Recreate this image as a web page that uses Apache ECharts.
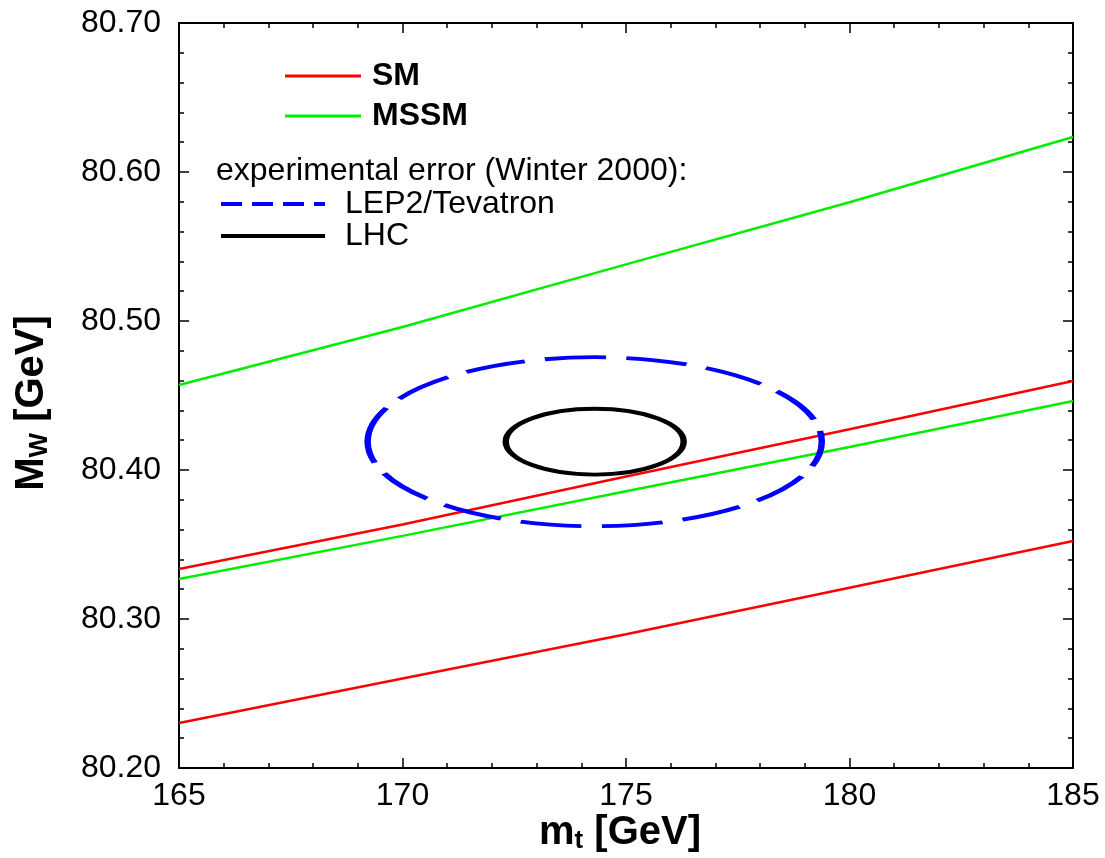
<!DOCTYPE html>
<html>
<head>
<meta charset="utf-8">
<script src="https://cdn.jsdelivr.net/npm/echarts@6/dist/echarts.min.js"></script>
<style>
  html, body { margin: 0; padding: 0; background: #fff; }
  #chart { width: 1105px; height: 858px; }
</style>
</head>
<body>
<div id="chart"></div>
<script>
// top mass grid [GeV]
const mtPoints = [165, 170, 175, 180, 185]
// M_W bands [GeV]
const smUpper = [80.3336, 80.3634, 80.3956, 80.4274, 80.4597]
const smLower = [80.2302, 80.2600, 80.2897, 80.3210, 80.3523]
const mssmUpper = [80.4570, 80.4960, 80.5380, 80.5797, 80.6235]
const mssmLower = [80.3268, 80.3558, 80.3857, 80.4154, 80.4463]
// error ellipses: [mt centre, MW centre, delta mt, delta MW]
const lep2Ellipse = [174.3, 80.419, 5.08, 0.0567]
const lhcEllipse = [174.3, 80.419, 1.99, 0.0221]

const xTicks = { min: 165, max: 185, interval: 5 }
const yTicks = { min: 80.2, max: 80.7, interval: 0.1 }

const FONT = '"Liberation Sans", Arial, Helvetica, sans-serif'
const RED = '#ff0000'
const GREEN = '#00ee00'
const BLUE = '#0000ff'

const zip = (xs, ys) => xs.map((x, i) => [x, ys[i]])

function lineSeries(name, ys, color) {
  return {
    name,
    type: 'line',
    data: zip(mtPoints, ys),
    symbol: 'none',
    smooth: false,
    lineStyle: { color, width: 2.5 },
    itemStyle: { color },
    z: 3,
  }
}

// pen is wider in x than in y, like the original plot
const PEN_SX = 1.7
function ellipseSeries(name, vals, color, dash) {
  return {
    name,
    type: 'custom',
    data: [vals],
    dimensions: ['mt', 'mw', 'dmt', 'dmw'],
    encode: { x: 0, y: 1 },
    itemStyle: { color },
    z: 4,
    renderItem(params, api) {
      const c = api.coord([api.value(0), api.value(1)])
      const s = api.size([api.value(2), api.value(3)])
      return {
        type: 'ellipse',
        x: c[0],
        y: c[1],
        scaleX: PEN_SX,
        shape: { cx: 0, cy: 0, rx: s[0] / PEN_SX, ry: s[1] },
        style: { fill: null, stroke: color, lineWidth: 3.8, lineDash: dash },
      }
    },
  }
}

const axisCommon = {
  type: 'value',
  axisLine: { show: true, onZero: false, lineStyle: { color: '#000', width: 2 } },
  axisTick: { show: true, inside: true, length: 10, lineStyle: { color: '#000', width: 1.5 } },
  minorTick: { show: true, splitNumber: 5, length: 5, lineStyle: { color: '#000', width: 1.5 } },
  splitLine: { show: false },
  minorSplitLine: { show: false },
}

const titleRich = {
  b: { fontSize: 40, fontWeight: 'bold', fontFamily: FONT, fill: '#000' },
  s: { fontSize: 26, fontWeight: 'bold', fontFamily: FONT, fill: '#000', padding: [15, 0, 0, 0] },
}

const chart = echarts.init(document.getElementById('chart'))

chart.setOption({
  backgroundColor: '#fff',
  animation: false,
  grid: { left: 179, right: 32, top: 23, bottom: 90 },
  xAxis: [
    {
      ...axisCommon, ...xTicks, position: 'bottom',
      axisLabel: { color: '#000', fontSize: 32, fontFamily: FONT, margin: 12 },
    },
    { ...axisCommon, ...xTicks, position: 'top', axisLabel: { show: false } },
  ],
  yAxis: [
    {
      ...axisCommon, ...yTicks, position: 'left',
      axisLabel: {
        color: '#000', fontSize: 32, fontFamily: FONT, margin: 18,
        formatter: (v) => v.toFixed(2),
      },
    },
    { ...axisCommon, ...yTicks, position: 'right', axisLabel: { show: false } },
  ],
  legend: [
    {
      orient: 'vertical',
      left: 280,
      top: 55,
      itemGap: 8,
      itemWidth: 76,
      itemHeight: 3,
      selectedMode: false,
      textStyle: { color: '#000', fontSize: 32, fontWeight: 'bold', fontFamily: FONT, padding: [0, 0, 0, 6] },
      data: [
        { name: 'SM', icon: 'path://M0,0H76V3H0Z', itemStyle: { color: RED } },
        { name: 'MSSM', icon: 'path://M0,0H76V3H0Z', itemStyle: { color: GREEN } },
      ],
    },
    {
      orient: 'vertical',
      left: 216,
      top: 183,
      itemGap: 0,
      itemWidth: 104,
      itemHeight: 4,
      selectedMode: false,
      textStyle: { color: '#000', fontSize: 32, fontFamily: FONT, lineHeight: 30, padding: [0, 0, 0, 15] },
      data: [
        {
          name: 'LEP2/Tevatron',
          icon: 'path://M0,0H21V4H0Z M31,0H52V4H31Z M62,0H83V4H62Z M93,0H104V4H93Z',
          itemStyle: { color: BLUE },
        },
        { name: 'LHC', icon: 'path://M0,0H104V4H0Z', itemStyle: { color: '#000' } },
      ],
    },
  ],
  graphic: [
    {
      type: 'text',
      left: 216,
      top: 155,
      style: { text: 'experimental error (Winter 2000):', fill: '#000', fontSize: 32, fontFamily: FONT },
    },
    {
      type: 'text',
      x: 620,
      y: 833,
      style: { text: '{b|m}{s|t}{b| [GeV]}', align: 'center', verticalAlign: 'middle', rich: titleRich },
    },
    {
      type: 'text',
      x: 32,
      y: 403,
      rotation: Math.PI / 2,
      style: { text: '{b|M}{s|W}{b| [GeV]}', align: 'center', verticalAlign: 'middle', rich: titleRich },
    },
  ],
  series: [
    lineSeries('SM', smUpper, RED),
    lineSeries('SM', smLower, RED),
    lineSeries('MSSM', mssmUpper, GREEN),
    lineSeries('MSSM', mssmLower, GREEN),
    ellipseSeries('LEP2/Tevatron', lep2Ellipse, BLUE, [36, 12]),
    ellipseSeries('LHC', lhcEllipse, '#000', null),
  ],
})
</script>
</body>
</html>
